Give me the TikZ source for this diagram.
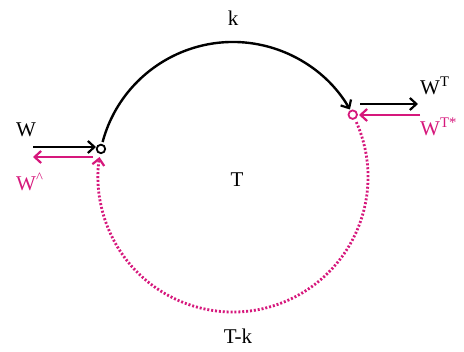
\documentclass[tikz,border=0pt]{standalone}
\usepackage{fontspec}
\setmainfont{Liberation Serif}
\usetikzlibrary{arrows.meta,calc}
\definecolor{pinkc}{RGB}{214,24,124}
\tikzset{
  lbl/.style={inner sep=0pt,font=\fontsize{21}{24}\selectfont},
  blkarrow/.style={line width=2.4pt,black,-{Straight Barb[length=6.5pt,width=12pt,line width=2.2pt]}},
  pnkarrow/.style={line width=2.4pt,pinkc,-{Straight Barb[length=6.5pt,width=12pt,line width=2.2pt]}},
  dotline/.style={line width=2.8pt,pinkc,dash pattern=on 2pt off 1.9pt,-{Straight Barb[length=6.5pt,width=12pt,line width=2.2pt]}},
  port/.style={circle,line width=1.8pt,fill=white,inner sep=0pt,minimum size=8.5pt}
}
\begin{document}
\begin{tikzpicture}[x=1pt,y=-1pt]
\useasboundingbox (0,0) rectangle (464,352);
\coordinate (C) at (233,177);
% arcs
\draw[blkarrow] ($(C)+(-165:135)$) arc[start angle=-165,end angle=-30,radius=135];
\draw[dotline] ($(C)+(-24:135)$) arc[start angle=-24,end angle=188.5,radius=135];
% ports
\node[port,draw=black] (L) at ($(C)+(-168:135)$) {};
\node[port,draw=pinkc] (R) at ($(C)+(-27.5:135)$) {};
% left arrows
\coordinate (la1) at (33,147);
\coordinate (la2) at (96,147);
\coordinate (lb1) at (93,157);
\coordinate (lb2) at (33,157);
\draw[blkarrow] (la1) -- (la2);
\draw[pnkarrow] (lb1) -- (lb2);
% right arrows
\coordinate (ra1) at (360,104);
\coordinate (ra2) at (418,104);
\coordinate (rb1) at (420,115);
\coordinate (rb2) at (359,115);
\draw[blkarrow] (ra1) -- (ra2);
\draw[pnkarrow] (rb1) -- (rb2);
% labels
\node[lbl] (k) at (233,18) {k};
\node[lbl] (T) at (237,180) {T};
\node[lbl] (Tk) at (238,336) {T-k};
\node[lbl,anchor=west] (W) at (16,130) {W};
\node[lbl,anchor=west,text=pinkc] (Wh) at (16,182) {W\textsuperscript{\textasciicircum}};
\node[lbl,anchor=west] (WT) at (420,86) {W\textsuperscript{T}};
\node[lbl,anchor=west,text=pinkc] (WTs) at (420,127) {W\textsuperscript{T*}};
\end{tikzpicture}
\end{document}
